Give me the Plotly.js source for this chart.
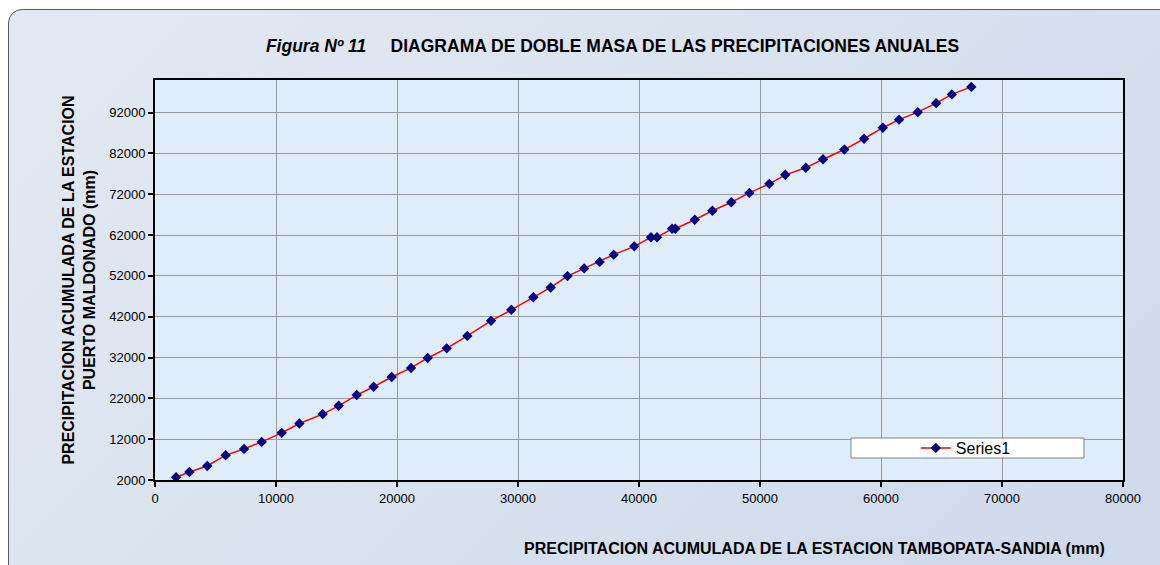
<!DOCTYPE html>
<html>
<head>
<meta charset="utf-8">
<script src="https://cdn.plot.ly/plotly-3.0.1.min.js"></script>
<style>
  html, body { margin: 0; padding: 0; background: #ffffff; }
  #frame { position: absolute; left: 8px; top: 9px; width: 1170px; height: 580px;
           border: 1px solid #5a5a5a; border-radius: 14px;
           background: linear-gradient(135deg, #e3e9f2 0%, #d8e1ee 55%, #cdd8ea 100%); }
  #chart { position: absolute; left: 0; top: 0; width: 1160px; height: 565px; }
</style>
</head>
<body>
<div id="frame"></div>
<div id="chart"></div>
<script>
// Accumulated precipitation, Tambopata-Sandia station (mm)
const xTambopata = [1740, 2840, 4320, 5840, 7360, 8820, 10470, 11930, 13860, 15180,
  16670, 18070, 19560, 21160, 22540, 24110, 25810, 27770, 29450, 31270,
  32700, 34090, 35470, 36750, 37910, 39610, 40990, 41490, 42730, 43000,
  44610, 46060, 47630, 49120, 50770, 52090, 53780, 55210, 56970, 58600,
  60150, 61490, 63040, 64560, 65850, 67460];
// Accumulated precipitation, Puerto Maldonado station (mm)
const yMaldonado = [2660, 3970, 5440, 8070, 9620, 11340, 13550, 15830, 18140, 20180,
  22810, 24850, 27230, 29450, 31900, 34260, 37310, 40990, 43700, 46790,
  49170, 51950, 53840, 55440, 57210, 59250, 61460, 61460, 63550, 63550,
  65760, 67970, 70060, 72340, 74560, 76770, 78490, 80580, 82960, 85610,
  88310, 90280, 92120, 94330, 96470, 98310];
const seriesName = 'Series1';
const xTicks = [0, 10000, 20000, 30000, 40000, 50000, 60000, 70000, 80000];
const yTicks = [2000, 12000, 22000, 32000, 42000, 52000, 62000, 72000, 82000, 92000];

const FONT = 'Arial, "Liberation Sans", sans-serif';

const trace = {
  x: xTambopata, y: yMaldonado, name: seriesName,
  type: 'scatter', mode: 'lines+markers',
  line: { color: '#ff0000', width: 1.5 },
  marker: { symbol: 'diamond', color: '#000080', size: 8, line: { width: 0 } },
  showlegend: true
};

const axisCommon = {
  showline: true, linecolor: '#000', linewidth: 2, mirror: true,
  ticks: 'outside', ticklen: 5, tickwidth: 2, tickcolor: '#000',
  showgrid: true, gridcolor: '#9a9a9a', gridwidth: 1,
  zeroline: false, tickfont: { family: FONT, size: 13, color: '#000' }
};

const layout = {
  width: 1160, height: 565,
  margin: { l: 155, r: 37, t: 80, b: 85 },
  paper_bgcolor: 'rgba(0,0,0,0)',
  plot_bgcolor: '#dfecf9',
  title: {
    text: '<i>Figura Nº 11</i>     DIAGRAMA DE DOBLE MASA DE LAS PRECIPITACIONES ANUALES',
    font: { family: FONT, size: 17.5, color: '#000', weight: 'bold' },
    x: 0.528, xanchor: 'center', y: 0.918, yanchor: 'middle'
  },
  xaxis: Object.assign({}, axisCommon, {
    range: [0, 80000], tickvals: xTicks, ticktext: xTicks.map(String)
  }),
  yaxis: Object.assign({}, axisCommon, {
    range: [2000, 100000], tickvals: yTicks, ticktext: yTicks.map(String),
    title: {
      text: 'PRECIPITACION ACUMULADA DE LA ESTACION<br>PUERTO MALDONADO (mm)',
      font: { family: FONT, size: 16, color: '#000', weight: 'bold' },
      standoff: 10
    }
  }),
  annotations: [{
    xref: 'paper', yref: 'paper', x: 0.983, y: -0.172,
    xanchor: 'right', yanchor: 'middle', showarrow: false,
    text: 'PRECIPITACION ACUMULADA DE LA ESTACION TAMBOPATA-SANDIA (mm)',
    font: { family: FONT, size: 16, color: '#000', weight: 'bold' }
  }],
  shapes: [{
    type: 'rect', xref: 'paper', yref: 'paper',
    x0: 0.719, x1: 0.9597, y0: 0.055, y1: 0.105,
    fillcolor: '#ffffff', line: { color: '#808080', width: 1 }, layer: 'above'
  }],
  legend: {
    x: 0.786, y: 0.08, xanchor: 'left', yanchor: 'middle',
    bgcolor: 'rgba(0,0,0,0)', borderwidth: 0,
    font: { family: FONT, size: 16, color: '#000' }
  }
};

Plotly.newPlot('chart', [trace], layout, { displayModeBar: false, staticPlot: true });
</script>
</body>
</html>
